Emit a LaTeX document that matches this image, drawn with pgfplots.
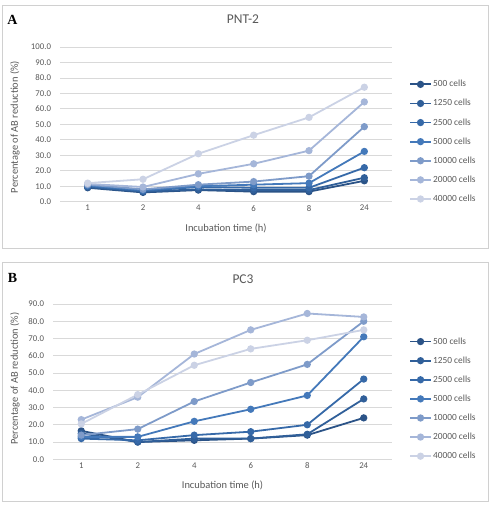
\documentclass[border=0pt]{standalone}
\usepackage{pgfplots}
\pgfplotsset{compat=1.18}
\usepackage{fontspec}
\setmainfont{Carlito}
\newfontfamily\serifbold{Liberation Serif}
\definecolor{gridc}{HTML}{D9D9D9}
\definecolor{txt}{HTML}{595959}
\definecolor{boxc}{HTML}{D0D0D0}
\definecolor{cA}{HTML}{2B5387}
\definecolor{cB}{HTML}{305F99}
\definecolor{cC}{HTML}{3669A8}
\definecolor{cD}{HTML}{4479BA}
\definecolor{cE}{HTML}{7E9BC9}
\definecolor{cF}{HTML}{A5B6D9}
\definecolor{cG}{HTML}{CBD2E5}

\pgfplotstableread{
x c500 c1250 c2500 c5000 c10000 c20000 c40000
1 9.0  9.5  10.0 10.5 11.0 11.5 12.0
2 6.0  6.5  7.0  7.5  8.0  9.5  14.5
3 7.5  8.0  9.5  10.0 11.0 18.0 31.0
4 6.5  7.5  9.0  11.0 13.0 24.5 43.0
5 6.5  7.5  9.0  12.0 16.5 33.0 54.5
6 13.5 15.5 22.0 32.5 48.5 64.5 74.0
}\tabA
\pgfplotstableread{
x c500 c1250 c2500 c5000 c10000 c20000 c40000
1 16.5 15.0 12.0 13.0 14.0 23.0 20.5
2 10.0 10.0 11.0 13.0 17.5 36.0 37.5
3 11.0 12.0 14.0 22.0 33.5 61.0 54.5
4 12.0 12.0 16.0 29.0 44.5 75.0 64.0
5 14.0 14.5 20.0 37.0 55.0 84.5 69.0
6 24.0 35.0 46.5 71.0 80.0 82.5 75.0
}\tabB

\pgfplotsset{
  common/.style={
    scale only axis,
    xmin=0.5, xmax=6.5, ymin=0,
    xtick={1,2,3,4,5,6},
    xticklabels={1,2,4,6,8,24},
    axis line style={draw=none},
    major tick length=0pt,
    ymajorgrids,
    grid style={gridc, line width=0.8pt},
    tick label style={font=\fontsize{8.8}{10}\selectfont, text=txt},
    yticklabel style={/pgf/number format/.cd, fixed, fixed zerofill, precision=1, /tikz/.cd, xshift=-5.5bp},
    /pgf/number format/assume math mode=true,
    label style={font=\fontsize{10.5}{12}\selectfont, text=txt},
    title style={font=\fontsize{13.5}{15}\selectfont, text=txt, anchor=center},
    every axis plot/.append style={line width=1.8pt, mark=*, mark size=2.7pt},
    clip=false,
    legend cell align=left,
    legend image code/.code={\draw[mark repeat=2,mark phase=2,##1] plot coordinates {(0bp,0bp) (10.5bp,0bp) (21bp,0bp)};},
    legend style={draw=none, fill=none, anchor=west, font=\fontsize{9.4}{10}\selectfont, text=txt, row sep=10.1bp, inner sep=0pt,
      nodes={inner sep=0pt, inner xsep=1.2bp, text height=7bp, text depth=2bp}},
  }
}

\begin{document}
\begin{tikzpicture}
\path[use as bounding box] (0,0) rectangle (491bp,505bp);
\fill[white] (0,0) rectangle (491bp,505bp);
\draw[boxc, line width=0.8pt] (2.5bp,257bp) rectangle (488bp,500bp);
\draw[boxc, line width=0.8pt] (2.5bp,4bp) rectangle (488bp,242.5bp);
\node[font=\serifbold\bfseries\fontsize{14}{15}\selectfont] at (12.5bp,485bp) {A};
\node[font=\serifbold\bfseries\fontsize{14}{15}\selectfont] at (12.5bp,227.5bp) {B};

\begin{axis}[common,
  at={(60bp,303.3bp)}, anchor=south west,
  width=332bp, height=154.7bp,
  ymax=100, ytick={0,10,...,100},
  title={PNT-2}, title style={at={(axis description cs:0.5,1)}, yshift=22bp, xshift=17bp},
  xlabel={Incubation time (h)}, xlabel style={at={(axis description cs:0.5,-0.1745)}, anchor=center},
  ylabel={Percentage of AB reduction (\%)}, ylabel style={at={(axis description cs:-0.1355,0.483)}, anchor=center, rotate=0},
  legend style={at={(axis description cs:1.051,0.388)}},
]
\addplot[cA] table[x=x,y=c500] {\tabA};
\addplot[cB] table[x=x,y=c1250] {\tabA};
\addplot[cC] table[x=x,y=c2500] {\tabA};
\addplot[cD] table[x=x,y=c5000] {\tabA};
\addplot[cE] table[x=x,y=c10000] {\tabA};
\addplot[cF] table[x=x,y=c20000] {\tabA};
\addplot[cG] table[x=x,y=c40000] {\tabA};
\legend{500 cells,1250 cells,2500 cells,5000 cells,10000 cells,20000 cells,40000 cells}
\end{axis}

\begin{axis}[common,
  at={(53bp,45.7bp)}, anchor=south west,
  width=339bp, height=155.3bp,
  ymax=90, ytick={0,10,...,90},
  title={PC3}, title style={at={(axis description cs:0.5,1)}, yshift=19bp, xshift=20.5bp},
  xlabel={Incubation time (h)}, xlabel style={at={(axis description cs:0.5,-0.17)}, anchor=center},
  ylabel={Percentage of AB reduction (\%)}, ylabel style={at={(axis description cs:-0.112,0.52)}, anchor=center},
  legend style={at={(axis description cs:1.050,0.389)}},
]
\addplot[cA] table[x=x,y=c500] {\tabB};
\addplot[cB] table[x=x,y=c1250] {\tabB};
\addplot[cC] table[x=x,y=c2500] {\tabB};
\addplot[cD] table[x=x,y=c5000] {\tabB};
\addplot[cE] table[x=x,y=c10000] {\tabB};
\addplot[cF] table[x=x,y=c20000] {\tabB};
\addplot[cG] table[x=x,y=c40000] {\tabB};
\legend{500 cells,1250 cells,2500 cells,5000 cells,10000 cells,20000 cells,40000 cells}
\end{axis}
\end{tikzpicture}
\end{document}
